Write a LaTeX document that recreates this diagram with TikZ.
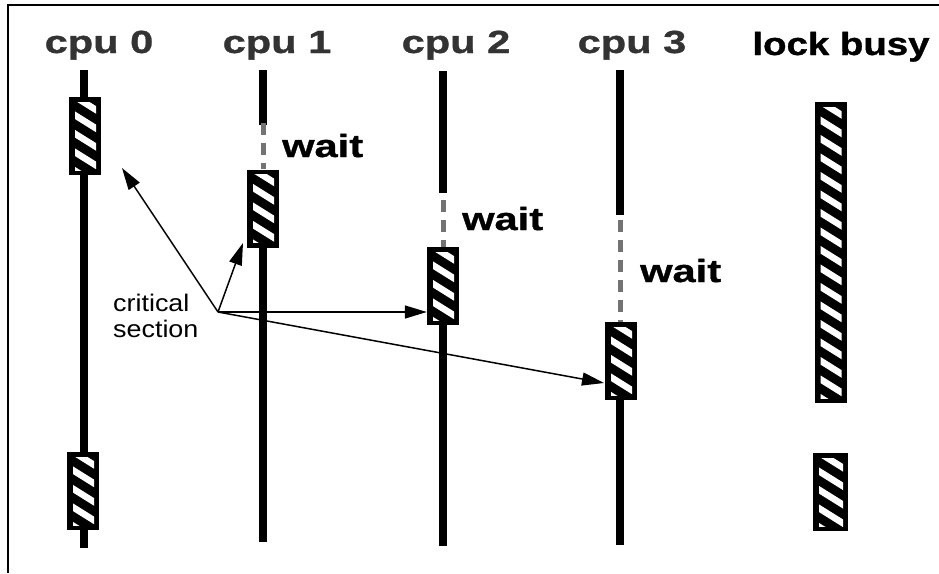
\documentclass[tikz,border=0pt]{standalone}
\usepackage{fontspec}
\setmainfont{Liberation Sans}
\newfontfamily\headfont[FakeStretch=1.2,FakeBold=1]{Liberation Sans Bold}
\newfontfamily\widefont[FakeStretch=1.3,FakeBold=1]{Liberation Sans Bold}
\newfontfamily\notefont[FakeStretch=1.12]{Liberation Sans}
\usetikzlibrary{arrows.meta}
\tikzset{
  cpuline/.style={
    line width=7.5pt,
  },
  waitline/.style={
    draw=black!55,
    line width=5pt,
    dash pattern=on 12pt off 8pt,
  },
  csbox/.style={
    rectangle,
    fill=black,
    inner sep=0pt,
    minimum width=32pt,
    minimum height=78pt,
    path picture={
      \clip ([xshift=6pt,yshift=-5pt]path picture bounding box.north west)
        rectangle ([xshift=-5pt,yshift=5pt]path picture bounding box.south east);
      \foreach \k in {0,...,17}
        \draw[white, line width=6.5pt]
          ([yshift=-\k*18.5pt+4pt]path picture bounding box.north west) -- ++(32pt,-20pt);
    },
  },
  head/.style={
    font=\widefont\fontsize{32}{36}\selectfont,
    text=black!80,
    inner sep=0pt,
    anchor=base,
  },
  waitlabel/.style={
    font=\widefont\fontsize{32}{36}\selectfont,
    inner sep=0pt,
    anchor=base west,
  },
  pointer/.style={
    -{Triangle[length=22pt,width=13pt]},
    line width=1.5pt,
  },
}

\begin{document}
\begin{tikzpicture}[x=1pt, y=-1pt]
    \useasboundingbox (0, 0) rectangle (939, 573);
    \draw[line width=2pt] (8, 573) -- (8, 5) -- (939, 5);

    % time lines
    \draw[cpuline] (84, 70) -- (84, 548);
    \draw[cpuline] (263, 70) -- (263, 125);
    \draw[waitline] (263, 123) -- (263, 169);
    \draw[cpuline] (263, 240) -- (263, 542);
    \draw[cpuline] (443, 71) -- (443, 193);
    \draw[waitline] (443, 200) -- (443, 247);
    \draw[cpuline] (443, 320) -- (443, 546);
    \draw[cpuline] (620, 70) -- (620, 215);
    \draw[waitline] (620, 220) -- (620, 322);
    \draw[cpuline] (620, 395) -- (620, 545);

    % critical sections
    \node[csbox] (cpu0csa) at (85, 136) {};
    \node[csbox] (cpu0csb) at (83, 491) {};
    \node[csbox] (cpu1cs) at (263, 208.5) {};
    \node[csbox] (cpu2cs) at (443, 286) {};
    \node[csbox] (cpu3cs) at (621, 361) {};
    \node[csbox, minimum height=301pt] (locka) at (830.5, 252.5) {};
    \node[csbox, minimum width=35pt] (lockb) at (830.5, 492) {};

    % headings
    \node[head] (cpu0) at (99, 53) {cpu 0};
    \node[head] (cpu1) at (277, 53) {cpu 1};
    \node[head] (cpu2) at (456, 53) {cpu 2};
    \node[head] (cpu3) at (632, 53) {cpu 3};
    \node[head, font=\headfont\fontsize{32}{36}\selectfont, text=black] (lock) at (841, 55) {lock busy};

    \node[waitlabel] (wait1) at (282, 157) {wait};
    \node[waitlabel] (wait2) at (462, 230) {wait};
    \node[waitlabel] (wait3) at (640, 282) {wait};

    % label and pointers
    \node[font=\notefont\fontsize{24}{26}\selectfont, align=left, inner sep=0pt, anchor=north west] (note) at (113, 294) {critical\\section};
    \coordinate (cs) at (218, 312);
    \coordinate (tip0) at (122, 168);
    \coordinate (tip1) at (243, 243);
    \coordinate (tip3) at (604, 383);

    \draw[pointer] (cs) -- (tip0);
    \draw[pointer] (cs) -- (tip1);
    \draw[pointer] (cs) -- (cs -| cpu2cs.west);
    \draw[pointer] (cs) -- (tip3);

  \end{tikzpicture}
\end{document}
